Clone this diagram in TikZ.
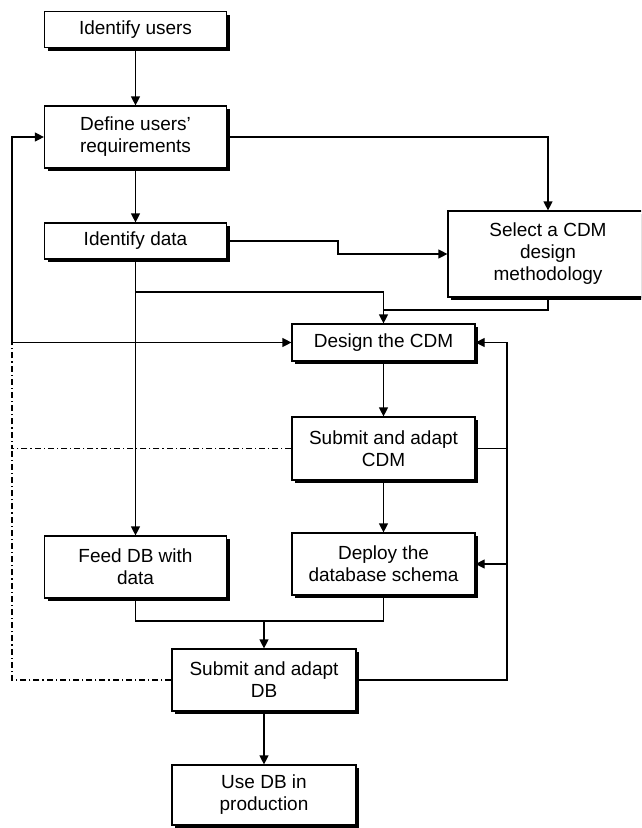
\documentclass[tikz,border=0pt]{standalone}
\usepackage{fontspec}
\setmainfont{Liberation Sans}
\usetikzlibrary{arrows.meta,shadows}
\tikzset{
  box/.style={draw=black, line width=1.2pt, fill=white, align=center,
    font=\fontsize{19}{22}\selectfont, inner sep=0pt,
    drop shadow={shadow xshift=3pt, shadow yshift=-3pt, opacity=1, fill=black}},
  line/.style={line width=1.2pt, draw=black},
  arr/.style={line/.try, line width=1.2pt, -{Triangle[length=9pt,width=9pt]}},
  dd/.style={line width=1.1pt, dash pattern=on 6pt off 3pt on 1.2pt off 3pt}
}
\begin{document}
\begin{tikzpicture}[x=1pt,y=-1pt]
\useasboundingbox (0,0) rectangle (641,828);
\clip (0,0) rectangle (641,828);
\fill[white] (0,0) rectangle (641,828);
% boxes
\node[box, minimum width=182pt, minimum height=36pt] (iu) at (135.5,29.5) {Identify users};
\node[box, minimum width=182pt, minimum height=62pt] (def) at (135.5,137) {Define users'\\requirements};
\node[box, minimum width=182pt, minimum height=36pt] (idd) at (135.5,241) {Identify data};
\node[box, minimum width=200pt, minimum height=86pt] (sel) at (548,254) {Select a CDM\\design\\methodology};
\node[box, minimum width=183pt, minimum height=37pt] (des) at (383.5,342.5) {Design the CDM};
\node[box, minimum width=183pt, minimum height=63pt] (sub) at (383.5,448.5) {Submit and adapt\\CDM};
\node[box, minimum width=183pt, minimum height=62pt] (dep) at (383.5,564) {Deploy the\\database schema};
\node[box, minimum width=182pt, minimum height=62pt] (feed) at (135.5,567) {Feed DB with\\data};
\node[box, minimum width=184pt, minimum height=62pt] (sdb) at (264,680) {Submit and adapt\\DB};
\node[box, minimum width=184pt, minimum height=60pt] (use) at (264,795) {Use DB in\\production};
% helper coordinates
\coordinate (k1) at (338,254);
\coordinate (b1) at (135.5,292);
\coordinate (m1) at (383.5,310);
\coordinate (L1) at (12,342.5);
\coordinate (L2) at (12,448.5);
\coordinate (R1) at (507,342.5);
\coordinate (M) at (264,621);
% main flow
\draw[arr] (iu) -- (def);
\draw[arr] (def) -- (idd);
\draw[arr] (def.east) -| (sel.north);
\draw[arr] (idd.east) -| (k1) -- (sel.west);
\draw[arr] (idd) -- (feed);
\draw[arr] (b1) -| (des.north);
\draw[line] (sel.south) |- (m1);
\draw[arr] (des) -- (sub);
\draw[arr] (sub) -- (dep);
\draw[line] (feed.south) |- (M);
\draw[line] (dep.south) |- (M);
\draw[arr] (M) -- (sdb.north);
\draw[arr] (sdb) -- (use);
% left feedback
\draw[arr] (L1) -- (des.west);
\draw[arr] (L1) |- (def.west);
\draw[dd] (sub.west) -| (L1);
\draw[dd] (sdb.west) -| (L2);
% right feedback
\draw[arr] (sdb.east) -| (R1) -- (des.east);
\draw[line] (sub.east) -- (sub.east -| R1);
\draw[arr] (dep.east -| R1) -- (dep.east);
\end{tikzpicture}
\end{document}
